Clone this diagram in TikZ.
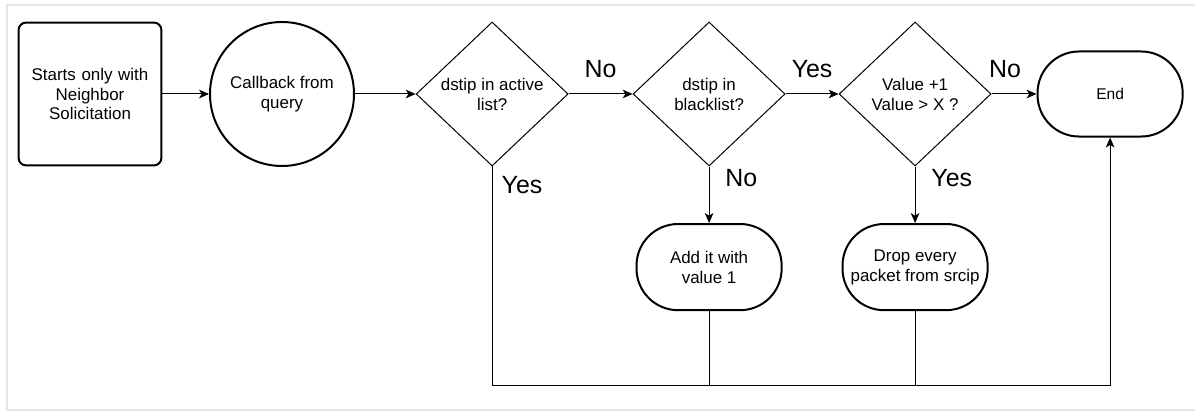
\documentclass[tikz,border=0pt]{standalone}
\usepackage{fontspec}
\setmainfont{Liberation Sans}
\usepackage{tikz}
\usetikzlibrary{shapes,arrows.meta}

\begin{document}
\begin{tikzpicture}[node distance = 5cm, auto]
	% % % % % % % % % % % % % % % % % % % % % % % % % % % % % %
	% Define styles
	\tikzstyle{startbox} = [rectangle, draw, line width=1.5pt, rounded corners=0.2cm,
					     minimum width=3.78cm, minimum height=3.78cm, text width=3.3cm,
					     align=center, font=\fontsize{12.75}{15}\selectfont]
	\tikzstyle{callback} = [circle, draw, line width=1.5pt, minimum size=3.81cm, inner sep=0pt,
					     align=center, font=\fontsize{12.75}{15}\selectfont]
	\tikzstyle{decision} = [diamond, draw, line width=0.75pt, minimum width=4.02cm, minimum height=3.81cm,
					     inner sep=0pt, align=center, font=\fontsize{12.75}{15}\selectfont]
	\tikzstyle{terminal} = [rectangle, draw, line width=1.5pt, rounded corners=1.1cm, inner sep=0pt,
					     minimum width=3.84cm, minimum height=2.28cm, align=center,
					     font=\fontsize{12.75}{15}\selectfont]
	\tikzstyle{lbl} = [inner sep=0pt, font=\fontsize{18.75}{22}\selectfont]
	\tikzstyle{line} = [draw, -{Stealth[length=7.5pt, width=6.5pt, inset=2pt]}, line width=0.75pt]
	\tikzstyle{plain} = [draw, line width=0.75pt]

	% % % % % % % % % % % % % % % % % % % % % % % % % % % % % %
	% Frame and size
	\useasboundingbox (-2.381,2.487) rectangle (29.236,-8.414);
	\draw [gray!20, line width=1.5pt] (29.236,2.355) -- (-2.196,2.355) -- (-2.196,-8.361) -- (29.236,-8.361);

	% % % % % % % % % % % % % % % % % % % % % % % % % % % % % %
	% Place nodes
	% main row
	\node [startbox] (st) {Starts only with\\Neighbor\\Solicitation};
	\node [callback, right of=st, node distance = 5.08cm] (cb) {Callback from\\query};
	\node [decision, right of=cb, node distance = 5.56cm] (act) {dstip in active\\list?};
	\node [decision, right of=act, node distance = 5.74cm] (blk) {dstip in\\blacklist?};
	\node [decision, right of=blk, node distance = 5.45cm] (val) {Value +1\\Value > X ?};
	\node [terminal, right of=val, node distance = 5.16cm, minimum height=2.25cm,
	       font=\fontsize{11.7}{14}\selectfont] (en) {End};
	% second row
	\node [terminal, below of=blk, node distance = 4.58cm] (add) {Add it with\\value 1};
	\node [terminal, below of=val, node distance = 4.58cm] (drop) {Drop every\\packet from srcip};
	% bottom corner
	\coordinate [below of=en, node distance = 7.70cm] (bot);

	% Draw edges
	\path [line] (st) -- (cb);
	\path [line] (cb) -- (act);
	\path [line] (act) -- node [lbl, above=0.42cm] {No} (blk);
	\path [line] (blk) -- node [lbl, above=0.42cm] {Yes} (val);
	\path [line] (val) -- node [lbl, above=0.42cm, pos=0.3] {No} (en);
	% %  down branches
	\path [line] (blk) -- node [lbl, pos=0, anchor=north west, xshift=0.42cm, yshift=-0.05cm] {No} (add);
	\path [line] (val) -- node [lbl, pos=0, anchor=north west, xshift=0.42cm, yshift=-0.05cm] {Yes} (drop);
	% %  back to end
	\path [line] (act.south) |- node [lbl, pos=0, anchor=north west, xshift=0.24cm, yshift=-0.26cm] {Yes} (bot) -- (en.south);
	\path [plain] (add) -- (add |- bot);
	\path [plain] (drop) -- (drop |- bot);
\end{tikzpicture}
\end{document}
